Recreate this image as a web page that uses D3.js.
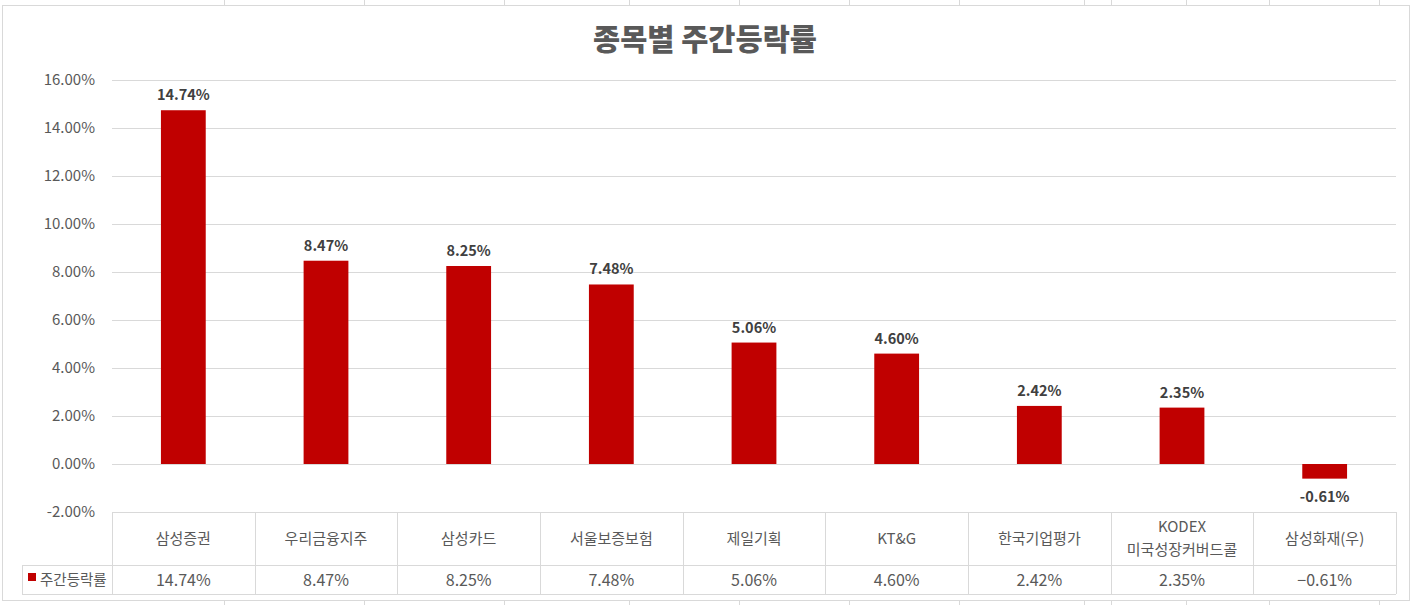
<!DOCTYPE html>
<html>
  <head>
    <meta charset="utf-8">
    <script src="https://d3js.org/d3.v7.min.js"></script>
    <title>종목별 주간등락률</title>
    <style>
      html, body {
        margin: 0;
        padding: 0;
        background: #fff;
      }
      svg {
        display: block;
        font-family: "Noto Sans CJK KR", "Noto Sans", sans-serif;
      }
    </style>
  </head>
  <body>
    <svg id="chart" width="1410" height="605"></svg>
    <script>
      // data
      var categories = ["삼성증권", "우리금융지주", "삼성카드", "서울보증보험", "제일기획",
                        "KT&G", "한국기업평가", "KODEX\n미국성장커버드콜", "삼성화재(우)"];
      var weeklyChange = [14.74, 8.47, 8.25, 7.48, 5.06, 4.60, 2.42, 2.35, -0.61];
      var yTicks = [-2, 0, 2, 4, 6, 8, 10, 12, 14, 16];
      var seriesName = "주간등락률";
      var chartTitle = "종목별 주간등락률";

      // spreadsheet column lines showing around the chart
      var sheetCols = [224, 364, 504, 629, 739, 849, 959, 1084, 1111, 1186, 1269, 1379];

      var svg = d3.select("#chart"),
          width = +svg.attr("width"),
          height = +svg.attr("height");

      var gridColor = "#d9d9d9",
          barColor = "#c00000",
          textColor = "#595959";

      var plot = {left: 112, right: 1396, top: 80, bottom: 512};
      var tableRow1 = 565, tableBottom = 594, legendLeft = 22;

      // sheet gridlines (behind chart)
      svg.append("g").selectAll("line")
        .data(sheetCols)
        .enter().append("line")
        .attr("x1", d => d + 0.5).attr("x2", d => d + 0.5)
        .attr("y1", 0).attr("y2", height)
        .style("stroke", gridColor);

      // chart area
      svg.append("rect")
        .attr("x", 2.5).attr("y", 5.5)
        .attr("width", width - 3).attr("height", 595)
        .style("fill", "#fff")
        .style("stroke", gridColor);

      var x = d3.scaleBand()
        .domain(categories)
        .range([plot.left, plot.right])
        .paddingInner(0.686)
        .paddingOuter(0.343);

      var band = d3.scaleBand()
        .domain(categories)
        .range([plot.left, plot.right]);

      var y = d3.scaleLinear()
        .domain([-2, 16])
        .range([plot.bottom, plot.top]);

      // plain hyphen for the minus, like the reference
      var fmt = d => d3.format(".2f")(d).replace("\u2212", "-") + "%";

      // gridlines
      svg.append("g").selectAll("line")
        .data(yTicks.filter(d => d > -2))
        .enter().append("line")
        .attr("x1", plot.left).attr("x2", plot.right)
        .attr("y1", d => Math.round(y(d)) + 0.5)
        .attr("y2", d => Math.round(y(d)) + 0.5)
        .style("stroke", gridColor);

      // y axis labels
      var yAxis = d3.axisLeft(y)
        .tickValues(yTicks)
        .tickFormat(fmt)
        .tickSize(0)
        .tickPadding(17);

      var yg = svg.append("g")
        .attr("transform", "translate(" + plot.left + ",0)")
        .call(yAxis);
      yg.select(".domain").remove();
      yg.selectAll("text")
        .style("font-family", "'Noto Sans CJK KR', sans-serif")
        .style("font-size", "15px")
        .style("fill", textColor);

      // bars
      svg.append("g").selectAll("rect")
        .data(weeklyChange)
        .enter().append("rect")
        .attr("x", (d, i) => x(categories[i]))
        .attr("width", x.bandwidth())
        .attr("y", d => y(Math.max(0, d)))
        .attr("height", d => Math.abs(y(d) - y(0)))
        .style("fill", barColor);

      // data labels
      svg.append("g").selectAll("text")
        .data(weeklyChange)
        .enter().append("text")
        .attr("x", (d, i) => x(categories[i]) + x.bandwidth() / 2)
        .attr("y", d => d >= 0 ? y(d) - 10 : y(d) + 23)
        .attr("text-anchor", "middle")
        .style("font-size", "14.5px")
        .style("font-weight", "bold")
        .style("fill", "#404040")
        .text(d => fmt(d));

      // data table
      var table = svg.append("g");
      table.append("line")
        .attr("x1", plot.left).attr("x2", plot.right)
        .attr("y1", plot.bottom + 0.5).attr("y2", plot.bottom + 0.5)
        .style("stroke", gridColor);
      table.append("line")
        .attr("x1", legendLeft).attr("x2", plot.right)
        .attr("y1", tableRow1 + 0.5).attr("y2", tableRow1 + 0.5)
        .style("stroke", gridColor);
      table.append("line")
        .attr("x1", legendLeft).attr("x2", plot.right)
        .attr("y1", tableBottom + 0.5).attr("y2", tableBottom + 0.5)
        .style("stroke", gridColor);
      table.append("line")
        .attr("x1", legendLeft + 0.5).attr("x2", legendLeft + 0.5)
        .attr("y1", tableRow1).attr("y2", tableBottom)
        .style("stroke", gridColor);

      var edges = categories.map(c => band(c)).concat([plot.right]);
      table.selectAll("line.col")
        .data(edges)
        .enter().append("line")
        .attr("class", "col")
        .attr("x1", d => Math.round(d) + 0.5).attr("x2", d => Math.round(d) + 0.5)
        .attr("y1", plot.bottom).attr("y2", tableBottom)
        .style("stroke", gridColor);

      // category names
      var catText = table.selectAll("text.cat")
        .data(categories)
        .enter().append("text")
        .attr("class", "cat")
        .attr("text-anchor", "middle")
        .style("font-size", "15px")
        .style("fill", textColor);

      catText.each(function(d) {
        var lines = d.split("\n");
        var cx = band(d) + band.bandwidth() / 2;
        var mid = (plot.bottom + tableRow1) / 2 + 5;
        d3.select(this).selectAll("tspan")
          .data(lines)
          .enter().append("tspan")
          .attr("x", cx)
          .attr("y", (l, i) => mid + (i - (lines.length - 1) / 2) * 23)
          .text(l => l);
      });

      // values row
      table.selectAll("text.val")
        .data(weeklyChange)
        .enter().append("text")
        .attr("class", "val")
        .attr("x", (d, i) => band(categories[i]) + band.bandwidth() / 2)
        .attr("y", (tableRow1 + tableBottom) / 2 + 6)
        .attr("text-anchor", "middle")
        .style("font-size", "16px")
        .style("fill", textColor)
        .text(d => d3.format(".2f")(d) + "%");

      // legend key
      table.append("rect")
        .attr("x", 28).attr("y", 573)
        .attr("width", 8).attr("height", 8)
        .style("fill", barColor);
      table.append("text")
        .attr("x", 40).attr("y", (tableRow1 + tableBottom) / 2 + 5)
        .style("font-size", "14.5px")
        .style("fill", textColor)
        .text(seriesName);

      // title
      svg.append("text")
        .attr("x", 705).attr("y", 50)
        .attr("text-anchor", "middle")
        .style("font-size", "29.5px")
        .style("font-weight", "900")
        .style("fill", textColor)
        .text(chartTitle);
    </script>
  </body>
</html>
